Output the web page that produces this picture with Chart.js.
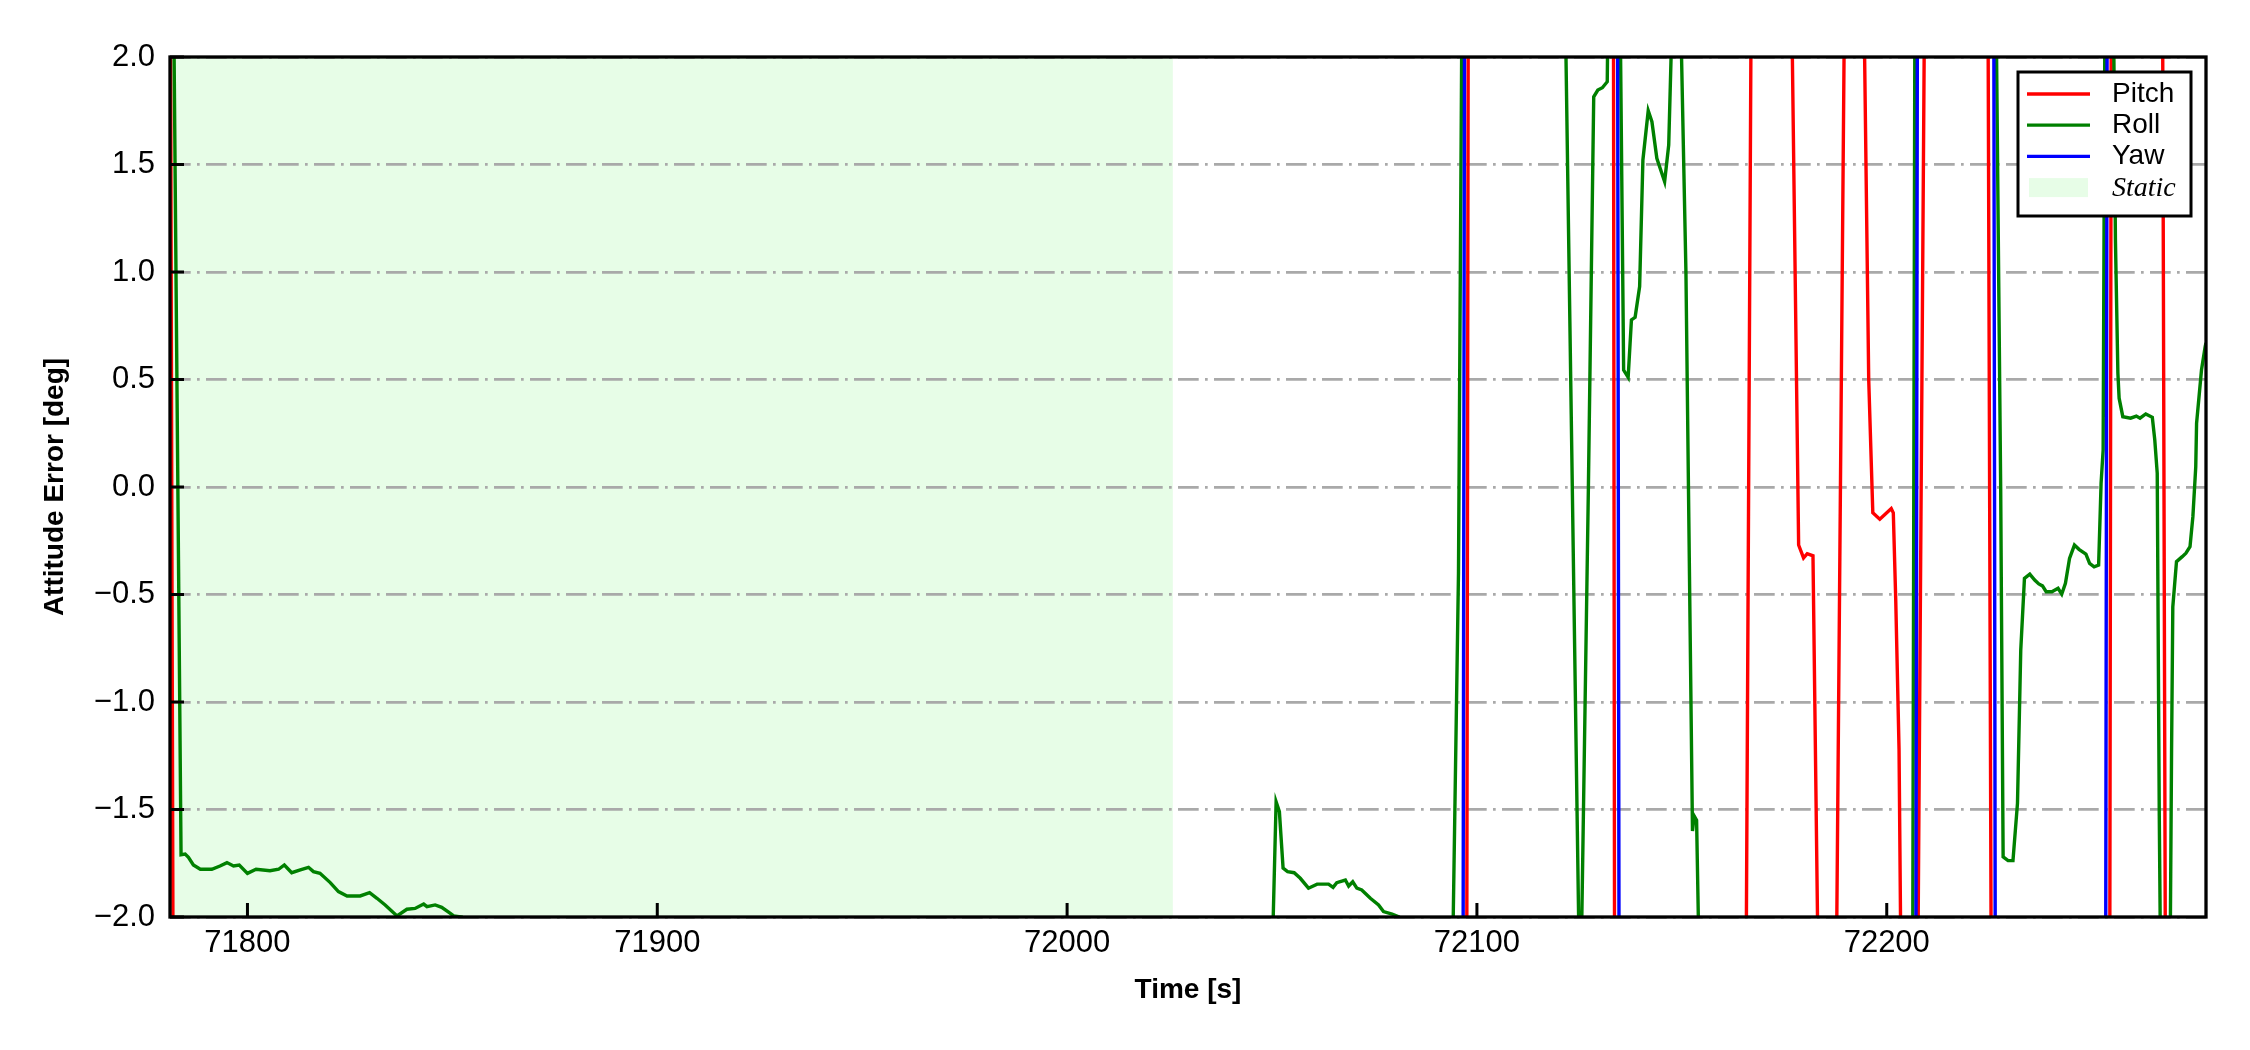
<!DOCTYPE html>
<html>
<head>
<meta charset="utf-8">
<script src="https://cdn.jsdelivr.net/npm/chart.js@4.4.1/dist/chart.umd.min.js"></script>
<style>
html,body{margin:0;padding:0;background:#ffffff;}
canvas{display:block;}
</style>
</head>
<body>
<canvas id="c" width="2250" height="1050" style="width:2250px;height:1050px"></canvas>
<script>
// ---------- data ----------
const seriesLabels = ['Pitch', 'Roll', 'Yaw'];
const staticLabel = 'Static';
const xTitle = 'Time [s]';
const yTitle = 'Attitude Error [deg]';
const xTicks = [71800, 71900, 72000, 72100, 72200];
const yTicks = [-2.0, -1.5, -1.0, -0.5, 0.0, 0.5, 1.0, 1.5, 2.0];
const xRange = [71781.1, 72277.9];
const yRange = [-2, 2];
const staticSpan = [71781.1, 72025.8];

const pitchT = [71781.1, 71781.9, 72097.5, 72097.9, 72133.3, 72133.6, 72165.7, 72166.9,
  72176.7, 72178.5, 72179.7, 72180.6, 72182.0, 72183.3, 72187.6, 72189.8,
  72194.4, 72195.6, 72196.6, 72198.3, 72200.0, 72201.1, 72201.6, 72202.2, 72203.0, 72203.5,
  72207.6, 72209.2, 72224.7, 72225.5, 72254.4, 72254.8, 72267.3, 72268.0, 72277.9];
const pitchV = [3.0, -2.6, -2.5, 2.5, 2.5, -2.5, -2.2, 2.2,
  2.4, -0.27, -0.33, -0.31, -0.32, -2.3, -2.5, 2.5,
  2.3, 0.5, -0.12, -0.15, -0.12, -0.10, -0.12, -0.53, -1.22, -2.3,
  -2.2, 2.2, 2.3, -2.3, -2.5, 2.5, 2.3, -2.3, -2.5];

const rollT = [71781.1, 71783.8, 71784.8, 71785.6, 71786.8, 71788.5, 71791.3, 71793.3, 71795.0,
  71796.6, 71798.0, 71800.0, 71802.1, 71805.5, 71807.6, 71809.0, 71810.8, 71812.9, 71814.9,
  71816.1, 71817.7, 71820.2, 71822.2, 71824.3, 71827.5, 71829.8, 71831.6, 71833.6, 71836.5,
  71838.9, 71840.9, 71843.0, 71843.8, 71845.8, 71847.4, 71849.5, 71850.3, 71852.3, 71855.0,
  71950.0, 72049.9, 72051.0, 72051.8, 72052.7, 72053.8, 72055.4, 72056.9, 72058.9, 72061.0,
  72063.8, 72064.9, 72065.8, 72067.9, 72068.7, 72069.7, 72070.7, 72071.9, 72074.0, 72076.0,
  72077.2, 72079.3, 72080.9, 72082.5, 72093.9, 72095.5, 72096.4, 72121.5, 72125.2, 72127.2,
  72128.5, 72129.5, 72130.6, 72131.8, 72132.2, 72134.8, 72135.8, 72136.9, 72137.7, 72138.6,
  72139.7, 72140.5, 72141.8, 72142.7, 72143.9, 72145.8, 72146.8, 72147.8, 72149.5, 72151.0,
  72152.6, 72153.0, 72153.6, 72154.4, 72206.3, 72206.9, 72226.5, 72227.8, 72228.4, 72229.6,
  72230.8, 72231.9, 72232.7, 72233.6, 72234.9, 72236.1, 72237.1, 72238.0, 72238.9, 72240.3,
  72241.8, 72242.7, 72243.6, 72244.6, 72245.8, 72246.9, 72248.6, 72249.5, 72250.6, 72251.7,
  72252.3, 72252.8, 72253.3, 72255.2, 72255.8, 72256.4, 72256.7, 72257.6, 72259.5, 72260.9,
  72261.8, 72263.2, 72264.8, 72265.4, 72266.0, 72266.5, 72266.9, 72269.0, 72269.5, 72269.8,
  72270.7, 72272.1, 72273.0, 72274.0, 72274.7, 72275.4, 72275.6, 72276.8, 72277.7, 72277.9];
const rollV = [4.2, -1.71, -1.707, -1.722, -1.758, -1.778, -1.778, -1.763, -1.747,
  -1.763, -1.758, -1.797, -1.778, -1.785, -1.778, -1.758, -1.794, -1.781, -1.769,
  -1.789, -1.797, -1.840, -1.882, -1.902, -1.902, -1.887, -1.913, -1.944, -1.995,
  -1.964, -1.960, -1.940, -1.952, -1.944, -1.955, -1.983, -1.995, -2.0, -2.08,
  -2.4, -2.3, -1.464, -1.510, -1.773, -1.789, -1.794, -1.820, -1.866, -1.847,
  -1.847, -1.862, -1.840, -1.828, -1.856, -1.836, -1.866, -1.874, -1.913, -1.944,
  -1.975, -1.986, -1.999, -2.1, -2.4, -0.4, 2.4, 2.3, -2.5, 0.0,
  1.815, 1.846, 1.857, 1.885, 2.6, 2.5, 0.544, 0.510, 0.777, 0.789,
  0.932, 1.521, 1.750, 1.699, 1.529, 1.420, 1.591, 2.3, 2.4, 1.0,
  -1.60, -1.53, -1.55, -2.4, -2.5, 2.5, 2.6, 0.0, -1.720, -1.738,
  -1.738, -1.471, -0.758, -0.425, -0.405, -0.433, -0.451, -0.460, -0.487, -0.487,
  -0.471, -0.498, -0.448, -0.332, -0.270, -0.290, -0.312, -0.355, -0.371, -0.363,
  0.017, 0.172, 2.5, 2.5, 1.149, 0.529, 0.413, 0.327, 0.320, 0.330,
  0.320, 0.340, 0.324, 0.219, 0.064, -1.53, -2.4, -2.6, -1.223, -0.557,
  -0.347, -0.324, -0.308, -0.278, -0.138, 0.094, 0.296, 0.544, 0.653, 0.67];

const yawT = [71781.1, 72096.6, 72097.0, 72134.3, 72134.7, 72207.1, 72207.5,
  72226.1, 72226.5, 72253.4, 72253.8, 72277.9];
const yawV = [-3.0, -2.5, 2.5, 2.5, -2.5, -2.5, 2.5, 2.5, -2.5, -2.5, 2.5, 3.0];

const seriesColors = ['#ff0000', '#008000', '#0000ff'];
const staticColor = 'rgb(231,253,231)';

// ---------- helpers ----------
const toXY = (ts, vs) => ts.map((t, i) => ({x: t, y: vs[i]}));
const FONT = '"Liberation Sans", Arial, sans-serif';

const spanPlugin = {
  id: 'staticSpan',
  beforeDraw(chart) {
    const {ctx, chartArea: a, scales: {x}} = chart;
    ctx.save();
    ctx.fillStyle = '#ffffff';
    ctx.fillRect(0, 0, chart.width, chart.height);
    const x0 = Math.max(a.left, x.getPixelForValue(staticSpan[0]));
    const x1 = Math.min(a.right, x.getPixelForValue(staticSpan[1]));
    ctx.fillStyle = staticColor;
    ctx.fillRect(x0, a.top, x1 - x0, a.bottom - a.top);
    ctx.restore();
  }
};

const framePlugin = {
  id: 'frame',
  afterDatasetsDraw(chart) {
    const {ctx, chartArea: a, scales: {x, y}} = chart;
    ctx.save();
    ctx.strokeStyle = '#000000';
    ctx.lineWidth = 3;
    ctx.beginPath();
    y.ticks.forEach(t => {
      const py = y.getPixelForValue(t.value);
      ctx.moveTo(a.left, py); ctx.lineTo(a.left + 14, py);
    });
    x.ticks.forEach(t => {
      const px = x.getPixelForValue(t.value);
      ctx.moveTo(px, a.bottom); ctx.lineTo(px, a.bottom - 14);
    });
    ctx.stroke();
    ctx.lineWidth = 3.3;
    ctx.strokeRect(a.left, a.top, a.right - a.left, a.bottom - a.top);
    ctx.restore();
  }
};

const legendPlugin = {
  id: 'boxLegend',
  afterDraw(chart) {
    const {ctx, chartArea: a} = chart;
    const bw = 173, bh = 144;
    const bx = a.right - 15 - bw, by = a.top + 15;
    ctx.save();
    ctx.fillStyle = '#ffffff';
    ctx.fillRect(bx, by, bw, bh);
    ctx.lineWidth = 3;
    ctx.strokeStyle = '#000000';
    ctx.strokeRect(bx, by, bw, bh);
    const rowH = 31.2, y0 = by + 22;
    ctx.textAlign = 'left';
    ctx.textBaseline = 'middle';
    chart.data.datasets.forEach((ds, i) => {
      const yy = y0 + i * rowH;
      ctx.strokeStyle = ds.borderColor;
      ctx.lineWidth = 3.3;
      ctx.beginPath(); ctx.moveTo(bx + 9, yy); ctx.lineTo(bx + 72, yy); ctx.stroke();
      ctx.fillStyle = '#000000';
      ctx.font = '28px ' + FONT;
      ctx.fillText(ds.label, bx + 94, yy);
    });
    const ys = y0 + 3 * rowH;
    ctx.fillStyle = staticColor;
    ctx.fillRect(bx + 11, ys - 9.5, 59, 19);
    ctx.fillStyle = '#000000';
    ctx.font = 'italic 28px "Liberation Serif", "Times New Roman", serif';
    ctx.fillText(staticLabel, bx + 94, ys + 1);
    ctx.restore();
  }
};

const order = [3, 2, 1];
const seriesData = [toXY(pitchT, pitchV), toXY(rollT, rollV), toXY(yawT, yawV)];

new Chart(document.getElementById('c'), {
  type: 'line',
  data: {
    datasets: seriesLabels.map((lab, i) => ({
      label: lab,
      data: seriesData[i],
      borderColor: seriesColors[i],
      backgroundColor: seriesColors[i],
      borderWidth: 3.4,
      pointRadius: 0,
      tension: 0,
      fill: false,
      clip: 0,
      order: order[i]
    }))
  },
  options: {
    responsive: false,
    animation: false,
    devicePixelRatio: 1,
    parsing: true,
    layout: {padding: {left: 0, right: 44, top: 57, bottom: 0}},
    plugins: {legend: {display: false}, tooltip: {enabled: false}},
    scales: {
      x: {
        type: 'linear',
        min: xRange[0], max: xRange[1],
        afterBuildTicks: s => { s.ticks = xTicks.map(v => ({value: v})); },
        afterFit: s => { s.height = 133; },
        grid: {display: false, drawTicks: false},
        border: {display: false},
        ticks: {
          font: {family: FONT, size: 31}, color: '#000000', padding: 8,
          maxRotation: 0, autoSkip: false,
          callback: v => String(v)
        },
        title: {
          display: true, text: xTitle, color: '#000000',
          font: {family: FONT, size: 28, weight: 'bold'},
          padding: {top: 0, bottom: 43}
        }
      },
      y: {
        type: 'linear',
        min: yRange[0], max: yRange[1],
        afterBuildTicks: s => { s.ticks = yTicks.map(v => ({value: v})); },
        afterFit: s => { s.width = 170; },
        grid: {color: '#a9a9a9', lineWidth: 2.7, drawTicks: false},
        border: {display: false, dash: [20.7, 6.3, 2.7, 6.3]},
        ticks: {
          font: {family: FONT, size: 31}, color: '#000000', padding: 15,
          autoSkip: false,
          callback: v => (v < 0 ? '\u2212' : '') + Math.abs(v).toFixed(1)
        },
        title: {
          display: true, text: yTitle, color: '#000000',
          font: {family: FONT, size: 28, weight: 'bold'},
          padding: {top: 38, bottom: 0}
        }
      }
    }
  },
  plugins: [spanPlugin, framePlugin, legendPlugin]
});
</script>
</body>
</html>
